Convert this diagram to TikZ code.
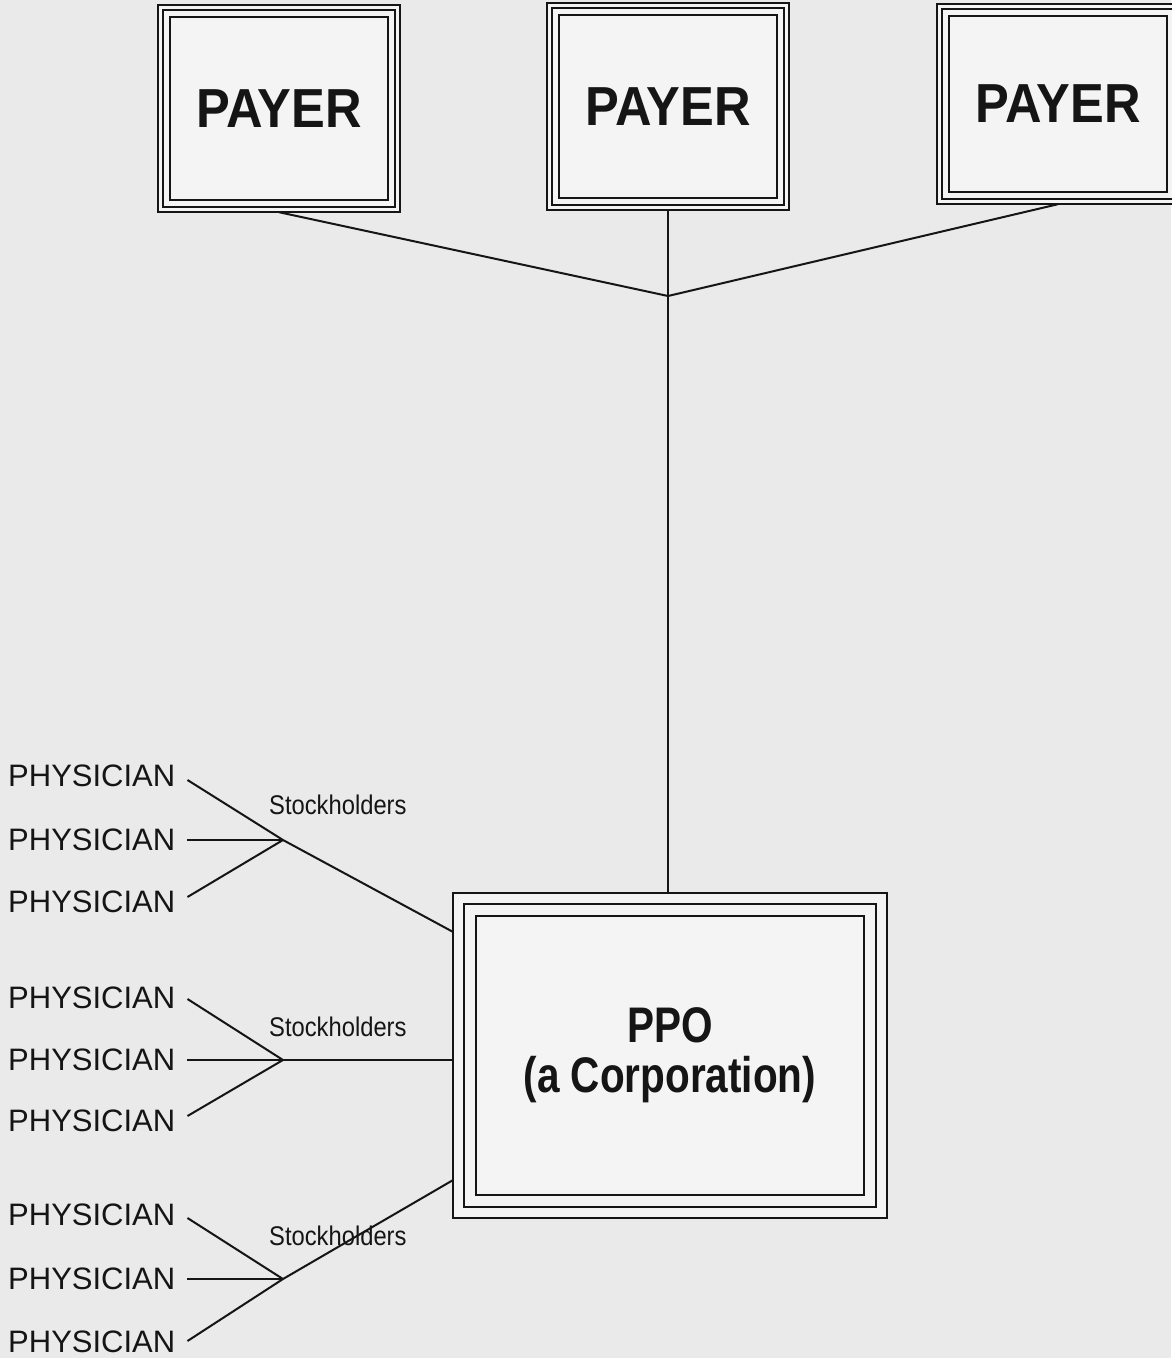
\documentclass[tikz,border=0pt]{standalone}
\usepackage{fontspec}
\setmainfont{Liberation Sans}
\newfontfamily\payfont[FakeStretch=0.92]{Liberation Sans}
\newfontfamily\condfont[FakeStretch=0.88]{Liberation Sans}
\newfontfamily\condbold[FakeStretch=0.81]{Liberation Sans}
\definecolor{bg}{HTML}{EAEAEA}
\definecolor{boxbg}{HTML}{F4F4F4}
\definecolor{ink}{HTML}{151515}
\newcommand\tribox[3]{%
  \draw[frame] (#1.north west) rectangle (#1.south east);
  \draw[frame] ([shift={(#2,-#2)}]#1.north west) rectangle ([shift={(-#2,#2)}]#1.south east);
  \draw[frame] ([shift={(#3,-#3)}]#1.north west) rectangle ([shift={(-#3,#3)}]#1.south east);}
\begin{document}
\begin{tikzpicture}[x=1pt,y=-1pt,
  frame/.style={draw=ink,line width=2.2pt},
  conn/.style={draw=ink,line width=2pt},
  box/.style={fill=boxbg,inner sep=0pt,text=ink},
  payer/.style={box,minimum width=242pt,font=\payfont\bfseries\fontsize{55}{62}\selectfont},
  phys/.style={anchor=west,inner xsep=12pt,inner ysep=0pt,text=ink,font=\fontsize{31}{36}\selectfont},
  stock/.style={anchor=west,inner sep=0pt,text=ink,font=\condfont\fontsize{27}{30}\selectfont}]
\fill[bg] (0,0) rectangle (1171,1358);
\useasboundingbox (0,0) rectangle (1171,1358);
% payers
\node[payer,minimum height=207pt] (pay1) at (279,108.5) {PAYER};
\node[payer,minimum height=207pt] (pay2) at (668,106.5) {PAYER};
\node[payer,minimum height=200pt] (pay3) at (1058,104) {PAYER};
\tribox{pay1}{5pt}{12pt}
\tribox{pay2}{5.5pt}{12.5pt}
\tribox{pay3}{5pt}{12pt}
% PPO
\node[box,minimum width=434pt,minimum height=325pt,align=center,
  font=\condbold\bfseries\fontsize{50}{50}\selectfont] (ppo) at (670,1055.5) {PPO\\(a Corporation)};
\tribox{ppo}{11.5pt}{23pt}
% junction of payers
\coordinate (J) at (668,296);
\draw[conn] (pay1.south) -- (J) -- (pay3.south);
\draw[conn] (pay2.south) -- (pay2.south |- ppo.north);
% physicians
\node[phys] (p1) at (-4,776) {PHYSICIAN};
\node[phys] (p2) at (-4,840) {PHYSICIAN};
\node[phys] (p3) at (-4,902) {PHYSICIAN};
\node[phys] (p4) at (-4,998) {PHYSICIAN};
\node[phys] (p5) at (-4,1060) {PHYSICIAN};
\node[phys] (p6) at (-4,1121) {PHYSICIAN};
\node[phys] (p7) at (-4,1215) {PHYSICIAN};
\node[phys] (p8) at (-4,1279) {PHYSICIAN};
\node[phys] (p9) at (-4,1342) {PHYSICIAN};
\node[stock] (s1) at (269,805) {Stockholders};
\node[stock] (s2) at (269,1027) {Stockholders};
\node[stock] (s3) at (269,1236) {Stockholders};
\coordinate (J1) at (283,840);
\coordinate (J2) at (283,1060);
\coordinate (J3) at (283,1279);
% group 1
\draw[conn] ([yshift=-4pt]p1.east) -- (J1) -- ([yshift=-39pt]ppo.north west);
\draw[conn] (p2.east) -- (J1);
\draw[conn] ([yshift=5pt]p3.east) -- (J1);
% group 2
\draw[conn] ([yshift=-1pt]p4.east) -- (J2);
\draw[conn] (p5.east) -- (J2) -- (ppo.west |- J2);
\draw[conn] ([yshift=5pt]p6.east) -- (J2);
% group 3
\draw[conn] ([yshift=-3pt]p7.east) -- (J3);
\draw[conn] (p8.east) -- (J3);
\draw[conn] ([yshift=1pt]p9.east) -- (J3) -- ([yshift=38pt]ppo.south west);
\end{tikzpicture}
\end{document}
